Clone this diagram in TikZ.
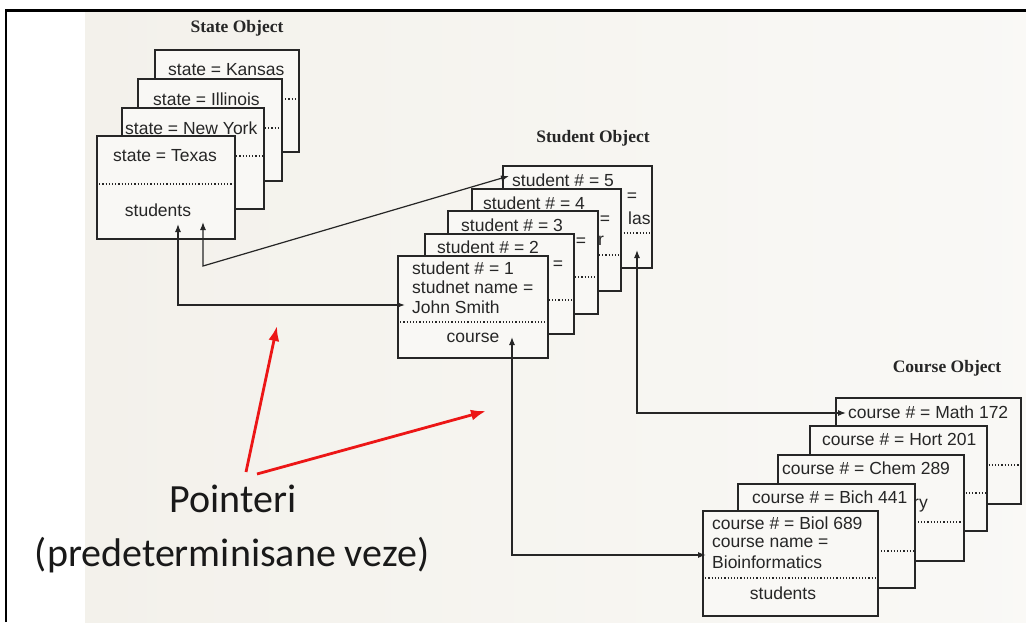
\documentclass[tikz,border=0pt]{standalone}
\usepackage{fontspec}
\setmainfont{Liberation Sans}
\newfontfamily\titlefont{Liberation Serif}
\newfontfamily\notefont{Carlito}
\usetikzlibrary{arrows.meta}

\definecolor{page}{RGB}{243,241,235}
\definecolor{boxfill}{RGB}{249,248,245}
\definecolor{ink}{RGB}{38,38,38}
\definecolor{pointer}{RGB}{236,22,22}

\tikzset{
  objbox/.style={draw=ink, fill=boxfill, line width=1.5pt, anchor=north west, inner sep=0pt},
  field/.style={anchor=west, inner sep=0pt, text=ink, font=\fontsize{17.5}{19.5}\selectfont},
  sep/.style={draw=ink, dotted, line width=1.2pt},
  objtitle/.style={font=\titlefont\bfseries\fontsize{17.5}{20}\selectfont, text=ink},
  link/.style={draw=ink, line width=1.2pt, {Latex[length=8pt,width=6pt]}-{Latex[length=8pt,width=6pt]}},
  ptr/.style={draw=pointer, line width=2.8pt, -{Latex[length=15pt,width=11pt]}},
  note/.style={anchor=base, inner sep=0pt, font=\notefont\fontsize{40}{46}\selectfont, text=black!90},
}

\begin{document}
\begin{tikzpicture}[x=1pt, y=-1pt]
    \useasboundingbox (0,0) rectangle (1026,622);

    % page
    \fill[white] (0,0) rectangle (1026,622);
    \shade[left color=page, right color=page!45!white] (85,12) rectangle (1026,622);
    \draw[black, line width=2.6pt] (6,622) -- (6,10.5) -- (1026,10.5);

    % state object
    \node[objtitle] (statetitle) at (237,28) {State Object};

    \node[objbox, minimum width=144pt, minimum height=102pt] (kansas) at (154,49) {};
    \draw[sep] ([yshift=-50pt]kansas.north west) -- ([yshift=-50pt]kansas.north east);
    \node[field] (kansasname) at (168,70) {state = Kansas};

    \node[objbox, minimum width=144pt, minimum height=102pt] (illinois) at (137,78) {};
    \draw[sep] ([yshift=-50pt]illinois.north west) -- ([yshift=-50pt]illinois.north east);
    \node[field] (illinoisname) at (153,99) {state = Illinois};

    \node[objbox, minimum width=142pt, minimum height=101pt] (newyork) at (121,107) {};
    \draw[sep] ([yshift=-49pt]newyork.north west) -- ([yshift=-49pt]newyork.north east);
    \node[field] (newyorkname) at (125,128) {state = New York};

    \node[objbox, minimum width=138pt, minimum height=103pt] (texas) at (96,135) {};
    \draw[sep] ([yshift=-49pt]texas.north west) -- ([yshift=-49pt]texas.north east);
    \node[field] (texasname) at (113,156) {state = Texas};
    \node[field, anchor=center] (texasstudents) at (158,210) {students};

    % student object
    \node[objtitle] (studenttitle) at (593,138) {Student Object};

    \node[objbox, minimum width=149pt, minimum height=102pt] (stu5) at (502,165) {};
    \draw[sep] ([yshift=-68pt]stu5.north west) -- ([yshift=-68pt]stu5.north east);
    \node[field] (stu5num) at (512,180) {student \# = 5};
    \node[field, anchor=center] (stu5eq) at (632,197) {=};
    \node[field] (stu5name) at (628,218) {las};

    \node[objbox, minimum width=149pt, minimum height=102pt] (stu4) at (471,188) {};
    \draw[sep] ([yshift=-67pt]stu4.north west) -- ([yshift=-67pt]stu4.north east);
    \node[field] (stu4num) at (483,203) {student \# = 4};
    \node[field, anchor=center] (stu4eq) at (605,220) {=};
    \node[field] (stu4name) at (598,241) {r};

    \node[objbox, minimum width=150pt, minimum height=103pt] (stu3) at (447,210) {};
    \draw[sep] ([yshift=-67pt]stu3.north west) -- ([yshift=-67pt]stu3.north east);
    \node[field] (stu3num) at (461,225) {student \# = 3};
    \node[field, anchor=center] (stu3eq) at (581,242) {=};

    \node[objbox, minimum width=149pt, minimum height=100pt] (stu2) at (424,233) {};
    \draw[sep] ([yshift=-67pt]stu2.north west) -- ([yshift=-67pt]stu2.north east);
    \node[field] (stu2num) at (437,247) {student \# = 2};
    \node[field, anchor=center] (stu2eq) at (558,265) {=};

    \node[objbox, minimum width=150pt, minimum height=102pt] (stu1) at (397,255) {};
    \draw[sep] ([yshift=-67pt]stu1.north west) -- ([yshift=-67pt]stu1.north east);
    \node[field] (stu1num) at (412,268) {student \# = 1};
    \node[field] (stu1label) at (412,287) {studnet name =};
    \node[field] (stu1name) at (412,307) {John Smith};
    \node[field, anchor=center] (stu1course) at (473,338) {course};

    % course object
    \node[objtitle] (coursetitle) at (947,368) {Course Object};

    \node[objbox, minimum width=185pt, minimum height=106pt] (math) at (835,397) {};
    \draw[sep] ([yshift=-68pt]math.north west) -- ([yshift=-68pt]math.north east);
    \node[field] (mathnum) at (848,412) {course \# = Math 172};

    \node[objbox, minimum width=177pt, minimum height=105pt] (hort) at (809,425) {};
    \draw[sep] ([yshift=-68pt]hort.north west) -- ([yshift=-68pt]hort.north east);
    \node[field] (hortnum) at (822,439) {course \# = Hort 201};

    \node[objbox, minimum width=186pt, minimum height=106pt] (chem) at (777,454) {};
    \draw[sep] ([yshift=-68pt]chem.north west) -- ([yshift=-68pt]chem.north east);
    \node[field] (chemnum) at (782,468) {course \# = Chem 289};
    \node[field] (chemname) at (913,506) {ry};

    \node[objbox, minimum width=177pt, minimum height=104pt] (bich) at (737,483) {};
    \draw[sep] ([yshift=-68pt]bich.north west) -- ([yshift=-68pt]bich.north east);
    \node[field] (bichnum) at (752,497) {course \# = Bich 441};

    \node[objbox, minimum width=175pt, minimum height=105pt] (biol) at (702,510) {};
    \draw[sep] ([yshift=-68pt]biol.north west) -- ([yshift=-68pt]biol.north east);
    \node[field] (biolnum) at (712,523) {course \# = Biol 689};
    \node[field] (biollabel) at (712,543) {course name =};
    \node[field] (biolname) at (712,562) {Bioinformatics};
    \node[field, anchor=center] (biolstudents) at (783,593) {students};

    % links
    \coordinate (texasA) at (178,224);
    \coordinate (texasB) at (203,222);
    \coordinate (johnin) at (405,305);
    \coordinate (fivein) at (509,176);
    \coordinate (courseup) at (512,337);
    \coordinate (bioin) at (706,555);
    \coordinate (lasup) at (637,250);
    \coordinate (mathin) at (846,413);

    \draw[link] (texasA) |- (johnin);
    \draw[link] (texasB) -- ++(0,44) -- (fivein);
    \draw[link] (courseup) |- (bioin);
    \draw[link] (lasup) |- (mathin);

    % pointers
    \node[note] (pointeri) at (233,512) {Pointeri};
    \node[note] (predet) at (232,566) {(predeterminisane veze)};

    \coordinate (ptrA) at (246,472);
    \coordinate (ptrB) at (257,474);
    \coordinate (aimstudent) at (277,326);
    \coordinate (aimcourse) at (486,411);

    \draw[ptr] (ptrA) -- (aimstudent);
    \draw[ptr] (ptrB) -- (aimcourse);
\end{tikzpicture}
\end{document}
